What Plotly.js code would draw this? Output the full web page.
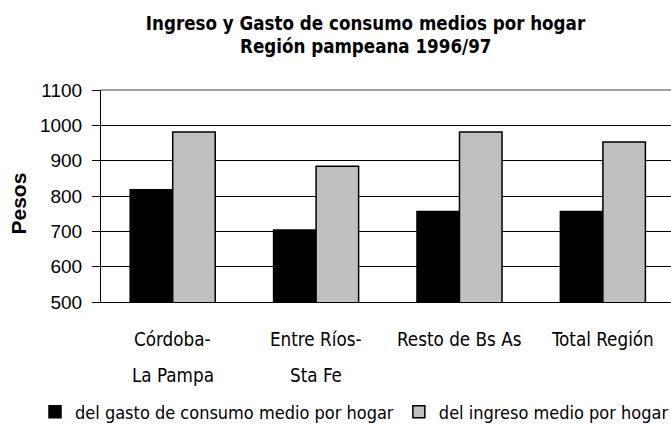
<!DOCTYPE html>
<html>
<head>
<meta charset="utf-8">
<script src="https://cdn.plot.ly/plotly-3.0.1.min.js"></script>
<style>html,body{margin:0;padding:0;background:#fff;}#chart{width:671px;height:424px;}</style>
</head>
<body>
<div id="chart"></div>
<script>
// ---- data ----
var categories = ["Córdoba-La Pampa", "Entre Ríos-Sta Fe", "Resto de Bs As", "Total Región"];
var labelLine1 = ["Córdoba-", "Entre Ríos-", "Resto de Bs As", "Total Región"];
var labelLine2 = ["La Pampa", "Sta Fe", "", ""];
var gastoValues = [818, 704, 756, 756];
var ingresoValues = [981, 884, 981, 953];
var seriesNames = ["del gasto de consumo medio por hogar", "del ingreso medio por hogar"];
var yTickValues = [500, 600, 700, 800, 900, 1000, 1100];
var titleLine1 = "Ingreso y Gasto de consumo medios por hogar";
var titleLine2 = "Región pampeana 1996/97";
var yTitle = "Pesos";

var NARROW = '"DejaVu Sans Condensed", "Liberation Sans Narrow", sans-serif';
var REG = '"Liberation Sans", Arial, sans-serif';

var traces = [
  {type: 'bar', x: categories, y: gastoValues, name: seriesNames[0],
   marker: {color: '#000000', line: {color: '#000000', width: 1.5}}},
  {type: 'bar', x: categories, y: ingresoValues, name: seriesNames[1],
   marker: {color: '#c0c0c0', line: {color: '#000000', width: 1.5}}}
];

var annotations = [];
categories.forEach(function (c, i) {
  annotations.push({x: c, xref: 'x', y: -0.175, yref: 'paper', text: labelLine1[i],
    showarrow: false, xanchor: 'center', yanchor: 'middle',
    font: {family: NARROW, size: 18.7, color: '#000'}});
  if (labelLine2[i]) {
    annotations.push({x: c, xref: 'x', y: -0.345, yref: 'paper', text: labelLine2[i],
      showarrow: false, xanchor: 'center', yanchor: 'middle',
      font: {family: NARROW, size: 18.7, color: '#000'}});
  }
});
annotations.push({x: (365.5 - 101) / 570, xref: 'paper', y: (302 - 46) / 212, yref: 'paper',
  text: '<b>' + titleLine2 + '</b>', showarrow: false, xanchor: 'center', yanchor: 'middle',
  font: {family: NARROW, size: 18.6, color: '#000'}});
annotations.push({x: (17.5 - 101) / 570, xref: 'paper', y: (302 - 204) / 212, yref: 'paper',
  text: '<b>' + yTitle + '</b>', textangle: -90, showarrow: false, xanchor: 'center', yanchor: 'middle',
  font: {family: REG, size: 21, color: '#000'}});

var layout = {
  width: 671, height: 424,
  margin: {l: 101, r: 0, t: 90, b: 122, pad: 0, autoexpand: false},
  paper_bgcolor: '#ffffff', plot_bgcolor: '#ffffff',
  title: {text: '<b>' + titleLine1 + '</b>', x: 365.5 / 671, xref: 'container', xanchor: 'center',
    y: 1 - 23 / 424, yref: 'container', yanchor: 'middle',
    font: {family: NARROW, size: 18.6, color: '#000'}},
  barmode: 'group', bargap: 0.407, bargroupgap: 0,
  xaxis: {type: 'category', range: [-0.5, 3.475], showticklabels: false, ticks: '',
    showline: true, linecolor: '#000', linewidth: 1, showgrid: false, zeroline: false, fixedrange: true},
  yaxis: {range: [500, 1100], tickvals: yTickValues, ticks: 'outside', ticklen: 8, tickwidth: 1,
    tickcolor: '#000', showline: true, linecolor: '#000', linewidth: 1,
    showgrid: true, gridcolor: '#000', gridwidth: 1, zeroline: false,
    ticklabelstandoff: 6,
    tickfont: {family: REG, size: 19, color: '#000'}},
  showlegend: true,
  legend: {orientation: 'h', xref: 'paper', yref: 'paper', x: (35 - 101) / 570, xanchor: 'left',
    y: (302 - 412) / 212, yanchor: 'middle',
    font: {family: NARROW, size: 18, color: '#000'}, bgcolor: 'rgba(0,0,0,0)', borderwidth: 0},
  shapes: [{type: 'line', xref: 'paper', yref: 'paper', x0: 0, x1: 1, y0: 1, y1: 1,
    line: {color: '#808080', width: 1.5}}],
  annotations: annotations
};

Plotly.newPlot('chart', traces, layout, {displayModeBar: false, staticPlot: true});
</script>
</body>
</html>
